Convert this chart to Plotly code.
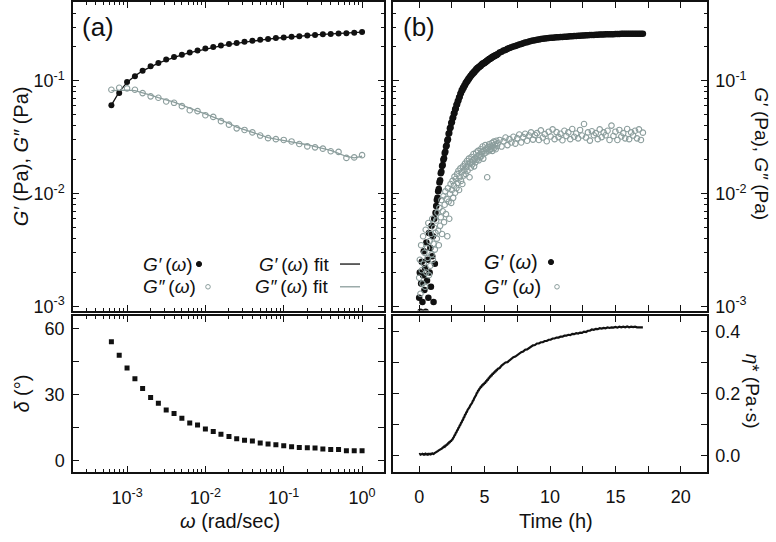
import plotly.graph_objects as go

# ---------------- data ----------------
omega = [6.31e-4, 7.94e-4, 1.00e-3, 1.26e-3, 1.58e-3, 2.00e-3, 2.51e-3, 3.16e-3, 3.98e-3, 5.01e-3,
         6.31e-3, 7.94e-3, 1.00e-2, 1.26e-2, 1.58e-2, 2.00e-2, 2.51e-2, 3.16e-2, 3.98e-2, 5.01e-2,
         6.31e-2, 7.94e-2, 1.00e-1, 1.26e-1, 1.58e-1, 2.00e-1, 2.51e-1, 3.16e-1, 3.98e-1, 5.01e-1,
         6.31e-1, 7.94e-1, 1.00]
g1_omega = [0.061, 0.078, 0.098, 0.110, 0.123, 0.135, 0.144, 0.155, 0.163, 0.171,
            0.179, 0.186, 0.194, 0.200, 0.206, 0.213, 0.217, 0.223, 0.227, 0.232,
            0.235, 0.240, 0.243, 0.246, 0.249, 0.253, 0.256, 0.260, 0.261, 0.263,
            0.265, 0.267, 0.272]
g2_omega = [0.0835, 0.087, 0.086, 0.0835, 0.078, 0.073, 0.071, 0.0657, 0.064, 0.0598,
            0.055, 0.054, 0.0497, 0.048, 0.044, 0.041, 0.038, 0.0368, 0.035, 0.0328,
            0.0311, 0.0305, 0.030, 0.0291, 0.0276, 0.0263, 0.0258, 0.0251, 0.0238, 0.0235,
            0.0208, 0.0210, 0.0220]
g1_fit = [0.061, 0.080, 0.097, 0.111, 0.123, 0.134, 0.144, 0.153, 0.162, 0.170,
          0.178, 0.185, 0.192, 0.199, 0.205, 0.211, 0.216, 0.222, 0.226, 0.231,
          0.235, 0.239, 0.243, 0.246, 0.249, 0.253, 0.256, 0.259, 0.261, 0.263,
          0.266, 0.268, 0.271]
g2_fit = [0.082, 0.083, 0.083, 0.082, 0.079, 0.075, 0.071, 0.068, 0.065, 0.061,
          0.057, 0.054, 0.051, 0.048, 0.045, 0.042, 0.039, 0.037, 0.035, 0.033,
          0.0315, 0.0305, 0.0297, 0.029, 0.0282, 0.0272, 0.0262, 0.0252, 0.0242, 0.0228,
          0.0214, 0.0208, 0.0215]
delta_deg = [54.0, 47.8, 42.1, 37.2, 32.8, 28.7, 26.1, 23.0, 21.5, 19.3,
             17.2, 16.3, 14.5, 13.3, 12.1, 11.0, 10.0, 9.4, 9.0, 8.1,
             7.6, 7.3, 6.9, 6.4, 6.1, 6.0, 5.8, 5.4, 5.2, 5.2,
             4.6, 4.6, 4.6]

time_h = [0.00, 0.05, 0.10, 0.15, 0.20, 0.25, 0.30, 0.35, 0.40, 0.45,
          0.50, 0.55, 0.60, 0.65, 0.70, 0.75, 0.80, 0.85, 0.90, 0.95,
          1.00, 1.05, 1.10, 1.15, 1.20, 1.25, 1.30, 1.35, 1.40, 1.45,
          1.50, 1.55, 1.60, 1.65, 1.70, 1.75, 1.80, 1.85, 1.90, 1.95,
          2.00, 2.05, 2.10, 2.15, 2.20, 2.25, 2.30, 2.35, 2.40, 2.45,
          2.50, 2.55, 2.60, 2.65, 2.70, 2.75, 2.80, 2.85, 2.90, 2.95,
          3.00, 3.05, 3.10, 3.15, 3.20, 3.25, 3.30, 3.35, 3.40, 3.45,
          3.50, 3.55, 3.60, 3.65, 3.70, 3.75, 3.80, 3.85, 3.90, 3.95,
          4.00, 4.05, 4.10, 4.15, 4.20, 4.25, 4.30, 4.35, 4.40, 4.45,
          4.50, 4.55, 4.60, 4.65, 4.70, 4.75, 4.80, 4.85, 4.90, 4.95,
          5.00, 5.05, 5.10, 5.15, 5.20, 5.25, 5.30, 5.35, 5.40, 5.45,
          5.50, 5.55, 5.60, 5.65, 5.70, 5.75, 5.80, 5.85, 5.90, 5.95,
          6.00,
          6.15, 6.30, 6.45, 6.60, 6.75, 6.90, 7.05, 7.20, 7.35,
          7.50, 7.65, 7.80, 7.95, 8.10, 8.25, 8.40, 8.55, 8.70, 8.85,
          9.00, 9.15, 9.30, 9.45, 9.60, 9.75, 9.90, 10.05, 10.20, 10.35,
          10.50, 10.65, 10.80, 10.95, 11.10, 11.25, 11.40, 11.55, 11.70, 11.85,
          12.00, 12.15, 12.30, 12.45, 12.60, 12.75, 12.90, 13.05, 13.20, 13.35,
          13.50, 13.65, 13.80, 13.95, 14.10, 14.25, 14.40, 14.55, 14.70, 14.85,
          15.00, 15.15, 15.30, 15.45, 15.60, 15.75, 15.90, 16.05, 16.20, 16.35,
          16.50, 16.65, 16.80, 16.95, 17.10]
g1_time = [0.0012, 0.0020, 0.0009, 0.0016, 0.0025, 0.0011, 0.0019, 0.0031, 0.0014, 0.0022,
           0.0009, 0.0037, 0.0017, 0.0026, 0.0012, 0.0045, 0.0020, 0.0033, 0.0015, 0.0052,
           0.0028, 0.0042, 0.0011, 0.0060, 0.0024, 0.0068,
           0.0078, 0.0088, 0.0092, 0.0105, 0.0110, 0.0126, 0.0132, 0.0152, 0.0157, 0.0176,
           0.0180, 0.0200, 0.0206, 0.0230, 0.0236, 0.0262, 0.0268, 0.0296, 0.0305, 0.0340,
           0.0345, 0.0380, 0.0386, 0.0424, 0.0430, 0.0468, 0.0474, 0.0515, 0.0520, 0.0562,
           0.0570, 0.0612, 0.0620, 0.0662, 0.0670, 0.0715, 0.0725, 0.0770, 0.0780, 0.0826,
           0.0828, 0.0870, 0.0872, 0.0912, 0.0915, 0.0958, 0.0962, 0.0998, 0.1000, 0.1040,
           0.1042, 0.1078, 0.1082, 0.1120, 0.1122, 0.1160, 0.1158, 0.1192, 0.1190, 0.1228,
           0.1232, 0.1268, 0.1266, 0.1300, 0.1302, 0.1330, 0.1330, 0.1355, 0.1358, 0.1392,
           0.1398, 0.1425, 0.1418, 0.1445, 0.1442, 0.1472, 0.1475, 0.1502, 0.1505, 0.1535,
           0.1538, 0.1562, 0.1565, 0.1590, 0.1592, 0.1618, 0.1618, 0.1645, 0.1645, 0.1672,
           0.1670, 0.1693, 0.1695, 0.1720, 0.1722,
           0.1785, 0.1815, 0.1860, 0.1885, 0.1925, 0.1955, 0.1990, 0.2020, 0.2045,
           0.2075, 0.2100, 0.2130, 0.2155, 0.2190, 0.2205, 0.2235, 0.2255, 0.2280, 0.2295,
           0.2320, 0.2335, 0.2350, 0.2365, 0.2375, 0.2390, 0.2400, 0.2410, 0.2420, 0.2425,
           0.2435, 0.2440, 0.2450, 0.2455, 0.2465, 0.2470, 0.2480, 0.2485, 0.2490, 0.2500,
           0.2505, 0.2510, 0.2520, 0.2525, 0.2530, 0.2540, 0.2545, 0.2550, 0.2555, 0.2560,
           0.2565, 0.2570, 0.2575, 0.2580, 0.2585, 0.2590, 0.2590, 0.2595, 0.2600, 0.2600,
           0.2605, 0.2610, 0.2610, 0.2615, 0.2615, 0.2620, 0.2620, 0.2620, 0.2625, 0.2620,
           0.2625, 0.2620, 0.2625, 0.2620, 0.2620]
g2_time = [0.0018, 0.0026, 0.0013, 0.0035, 0.0021, 0.0016, 0.0042, 0.0024, 0.0030, 0.0015,
           0.0048, 0.0020, 0.0033, 0.0027, 0.0055, 0.0019, 0.0038, 0.0023, 0.0044, 0.0029,
           0.0060, 0.0026, 0.0036, 0.0050, 0.0032, 0.0045,
           0.0058, 0.0040, 0.0068, 0.0047, 0.0035, 0.0075, 0.0052, 0.0062, 0.0088, 0.0044,
           0.0070, 0.0095, 0.0056, 0.0080, 0.0105, 0.0066, 0.0090, 0.0042, 0.0112, 0.0085,
           0.0060, 0.0100, 0.0122, 0.0083,
           0.0108, 0.0130, 0.0092, 0.0118, 0.0142, 0.0102, 0.0135, 0.0112, 0.0150, 0.0125,
           0.0160, 0.0108, 0.0140, 0.0168, 0.0130, 0.0155, 0.0122, 0.0175, 0.0145, 0.0162,
           0.0185, 0.0150, 0.0172, 0.0195, 0.0160, 0.0182, 0.0205, 0.0140, 0.0190, 0.0170,
           0.0212, 0.0182, 0.0198, 0.0225, 0.0175, 0.0205, 0.0190, 0.0232, 0.0200, 0.0215,
           0.0240, 0.0198, 0.0222, 0.0210, 0.0248, 0.0215, 0.0235, 0.0262, 0.0205, 0.0240,
           0.0228, 0.0270, 0.0232, 0.0250, 0.0140, 0.0258, 0.0238, 0.0275, 0.0245, 0.0262,
           0.0250, 0.0282, 0.0240, 0.0268, 0.0290, 0.0255, 0.0272, 0.0248, 0.0295, 0.0265,
           0.0280,
           0.0300, 0.0262, 0.0292, 0.0315, 0.0270, 0.0305, 0.0285, 0.0320, 0.0278,
           0.0310, 0.0335, 0.0285, 0.0318, 0.0340, 0.0295, 0.0328, 0.0350, 0.0302, 0.0332,
           0.0345, 0.0300, 0.0365, 0.0315, 0.0338, 0.0292, 0.0355, 0.0322, 0.0372, 0.0305,
           0.0352, 0.0318, 0.0340, 0.0298, 0.0362, 0.0325, 0.0350, 0.0305, 0.0375, 0.0320,
           0.0342, 0.0310, 0.0368, 0.0328, 0.0415, 0.0315, 0.0350, 0.0296, 0.0358, 0.0330,
           0.0345, 0.0305, 0.0372, 0.0318, 0.0350, 0.0330, 0.0362, 0.0300, 0.0402, 0.0325,
           0.0355, 0.0300, 0.0368, 0.0322, 0.0345, 0.0310, 0.0375, 0.0305, 0.0350, 0.0328,
           0.0362, 0.0310, 0.0372, 0.0300, 0.0348]
eta_star = [0.004, 0.005, 0.003, 0.005, 0.004, 0.006, 0.004, 0.003, 0.005, 0.004,
            0.006, 0.005, 0.003, 0.005, 0.004, 0.006, 0.005, 0.004, 0.006, 0.005,
            0.007, 0.006, 0.005, 0.007, 0.008, 0.009,
            0.011, 0.012, 0.014, 0.015, 0.017, 0.018, 0.020, 0.021, 0.023, 0.023,
            0.026, 0.026, 0.029, 0.028, 0.032, 0.032, 0.035, 0.035, 0.039, 0.039,
            0.043, 0.043, 0.047, 0.047, 0.051, 0.052, 0.057, 0.059, 0.065, 0.067,
            0.073, 0.075, 0.081, 0.083, 0.089, 0.091, 0.097, 0.099, 0.105, 0.107,
            0.113, 0.115, 0.122, 0.124, 0.131, 0.133, 0.139, 0.141, 0.147, 0.149,
            0.154, 0.156, 0.161, 0.163, 0.168, 0.170, 0.176, 0.178, 0.184, 0.187,
            0.193, 0.195, 0.201, 0.203, 0.209, 0.210, 0.215, 0.216, 0.221, 0.221,
            0.226, 0.226, 0.230, 0.230, 0.234, 0.234, 0.239, 0.239, 0.244, 0.244,
            0.249, 0.249, 0.254, 0.254, 0.258, 0.258, 0.263, 0.263, 0.267, 0.267,
            0.271, 0.271, 0.275, 0.275, 0.279,
            0.282, 0.290, 0.294, 0.300, 0.301, 0.307, 0.310, 0.317, 0.319,
            0.324, 0.327, 0.333, 0.335, 0.341, 0.342, 0.347, 0.349, 0.355, 0.356,
            0.361, 0.361, 0.365, 0.365, 0.369, 0.369, 0.373, 0.373, 0.377, 0.377,
            0.380, 0.380, 0.383, 0.383, 0.386, 0.386, 0.389, 0.388, 0.392, 0.391,
            0.394, 0.393, 0.396, 0.395, 0.399, 0.398, 0.402, 0.402, 0.406, 0.405,
            0.408, 0.407, 0.410, 0.409, 0.411, 0.410, 0.413, 0.411, 0.413, 0.412,
            0.414, 0.412, 0.415, 0.413, 0.415, 0.413, 0.416, 0.413, 0.415, 0.414,
            0.415, 0.413, 0.414, 0.413, 0.413]

assert len(time_h) == len(g1_time) == len(g2_time) == len(eta_star), (
    len(time_h), len(g1_time), len(g2_time), len(eta_star))

log_tick_vals = [1e-3, 1e-2, 1e-1, 1]
log_tick_text = ["10<sup>-3</sup>", "10<sup>-2</sup>", "10<sup>-1</sup>", "10<sup>0</sup>"]

# ---------------- styling ----------------
W, H = 776, 542
BLACK = "#111111"
GRAY = "#8c9e9d"
FONT = "Liberation Sans, Arial, sans-serif"


def px(x):
    return x / W


def py(y):
    return 1 - y / H


def minor_log(lo, hi):
    out = []
    for e in range(lo, hi + 1):
        for m in range(2, 10):
            out.append(m * 10.0 ** e)
    return out


fig = go.Figure()

# (a) top: G', G'' vs omega
fig.add_trace(go.Scatter(x=omega, y=g1_fit, mode="lines", line=dict(color=BLACK, width=1.3),
                         xaxis="x", yaxis="y", showlegend=False))
fig.add_trace(go.Scatter(x=omega, y=g2_fit, mode="lines", line=dict(color=GRAY, width=1.3),
                         xaxis="x", yaxis="y", showlegend=False))
fig.add_trace(go.Scatter(x=omega, y=g1_omega, mode="markers",
                         marker=dict(color=BLACK, size=6, line=dict(width=0)),
                         xaxis="x", yaxis="y", showlegend=False))
fig.add_trace(go.Scatter(x=omega, y=g2_omega, mode="markers",
                         marker=dict(color=GRAY, size=5.5, symbol="circle-open", line=dict(color=GRAY, width=1.1)),
                         xaxis="x", yaxis="y", showlegend=False))
# (a) bottom: delta
fig.add_trace(go.Scatter(x=omega, y=delta_deg, mode="markers",
                         marker=dict(color=BLACK, size=5, symbol="square", line=dict(width=0)),
                         xaxis="x3", yaxis="y3", showlegend=False))
# (b) top: time sweep
fig.add_trace(go.Scatter(x=time_h, y=g1_time, mode="markers",
                         marker=dict(color=BLACK, size=6.5, line=dict(width=0)),
                         xaxis="x2", yaxis="y2", showlegend=False))
fig.add_trace(go.Scatter(x=time_h, y=g2_time, mode="markers",
                         marker=dict(size=5.5, symbol="circle-open", color=GRAY, line=dict(color=GRAY, width=1.1)),
                         xaxis="x2", yaxis="y2", showlegend=False))
# (b) bottom: eta*
fig.add_trace(go.Scatter(x=time_h, y=eta_star, mode="lines", line=dict(color=BLACK, width=2.2),
                         xaxis="x4", yaxis="y4", showlegend=False))

common = dict(showline=True, linecolor=BLACK, linewidth=1.5, mirror="allticks", ticks="inside",
              ticklen=6, tickwidth=1.2, tickcolor=BLACK, showgrid=False, zeroline=False,
              tickfont=dict(family=FONT, size=18, color=BLACK), ticklabelstandoff=3)

xl = [px(73), px(384)]
xr = [px(393), px(707)]
yt = [py(314), py(2)]
yb = [py(477), py(320)]

logx_range = [-3.69, 0.28]
logy_range = [-3.035, -0.30]

fig.update_layout(
    width=W, height=H, margin=dict(l=0, r=0, t=0, b=0),
    paper_bgcolor="white", plot_bgcolor="white",
    font=dict(family=FONT, size=18, color=BLACK),
    xaxis=dict(common, type="log", domain=xl, range=logx_range, anchor="y", tickvals=log_tick_vals,
               ticktext=log_tick_text, showticklabels=False,
               minor=dict(tickvals=minor_log(-4, 0), ticks="inside", ticklen=3, tickcolor=BLACK)),
    yaxis=dict(common, type="log", domain=yt, range=logy_range, anchor="x", tickvals=log_tick_vals[:3],
               ticktext=log_tick_text[:3],
               minor=dict(tickvals=minor_log(-3, -1), ticks="inside", ticklen=3, tickcolor=BLACK)),
    xaxis3=dict(common, type="log", domain=xl, range=logx_range, anchor="y3", tickvals=log_tick_vals,
                ticktext=log_tick_text, ticklabelstandoff=9,
                minor=dict(tickvals=minor_log(-4, 0), ticks="inside", ticklen=3, tickcolor=BLACK)),
    yaxis3=dict(common, domain=yb, range=[-4.9, 65.4], anchor="x3", tickvals=[0, 30, 60],
                minor=dict(tickvals=[15, 45], ticks="inside", ticklen=6, tickcolor=BLACK)),
    xaxis2=dict(common, domain=xr, range=[-2, 22], anchor="y2", tickvals=[0, 5, 10, 15, 20],
                showticklabels=False,
                minor=dict(tickvals=[2.5, 7.5, 12.5, 17.5], ticks="inside", ticklen=6, tickcolor=BLACK)),
    yaxis2=dict(common, type="log", domain=yt, range=logy_range, anchor="x2", side="right",
                tickvals=log_tick_vals[:3], ticktext=log_tick_text[:3],
                minor=dict(tickvals=minor_log(-3, -1), ticks="inside", ticklen=3, tickcolor=BLACK)),
    xaxis4=dict(common, domain=xr, range=[-2, 22], anchor="y4", tickvals=[0, 5, 10, 15, 20],
                ticklabelstandoff=8,
                minor=dict(tickvals=[2.5, 7.5, 12.5, 17.5], ticks="inside", ticklen=6, tickcolor=BLACK)),
    yaxis4=dict(common, domain=yb, range=[-0.052, 0.448], anchor="x4", side="right",
                tickvals=[0.0, 0.2, 0.4], ticktext=["0.0", "0.2", "0.4"],
                minor=dict(tickvals=[0.1, 0.3], ticks="inside", ticklen=6, tickcolor=BLACK)),
)

ann = []


def text(x, y, s, size=18, angle=0, xanchor="center", yanchor="middle"):
    ann.append(dict(x=px(x), y=py(y), xref="paper", yref="paper", text=s, showarrow=False,
                    textangle=angle, xanchor=xanchor, yanchor=yanchor,
                    font=dict(family=FONT, size=size, color=BLACK)))


# panel labels
text(98, 27, "(a)", size=26)
text(419, 27, "(b)", size=26)
# axis titles
text(21, 158, "<i>G′</i> (Pa), <i>G″</i> (Pa)", size=20, angle=-90)
text(22, 398, "<i>δ</i> (°)", size=20, angle=-90)
text(230, 527, "<i>ω</i> (rad/sec)", size=20)
text(556, 527, "Time (h)", size=20)
text(762, 155, "<i>G′</i> (Pa), <i>G″</i> (Pa)", size=19, angle=90)
text(752, 395, "<i>η</i>* (Pa·s)", size=19, angle=90)

# legend (a)
text(141, 267, "<i>G′</i>\u2009(<i>ω</i>)", xanchor="left", size=19)
text(141, 290, "<i>G″</i>\u2009(<i>ω</i>)", xanchor="left", size=19)
text(331, 267, "<i>G′</i>\u2009(<i>ω</i>) fit", xanchor="right", size=19)
text(331, 290, "<i>G″</i>\u2009(<i>ω</i>) fit", xanchor="right", size=19)
# legend (b)
text(482, 265, "<i>G′</i> (<i>ω</i>)", xanchor="left", size=20)
text(482, 290, "<i>G″</i> (<i>ω</i>)", xanchor="left", size=20)
fig.update_layout(annotations=ann)

shapes = []
for (cx, cy, fill, line) in [(199, 267, BLACK, BLACK), (208, 290, "white", GRAY),
                             (551, 265, BLACK, BLACK), (557, 290, "white", GRAY)]:
    r = 2.6 if fill == BLACK else 2.3
    shapes.append(dict(type="circle", xref="paper", yref="paper", x0=px(cx - r), x1=px(cx + r),
                       y0=py(cy + r), y1=py(cy - r), fillcolor=fill, line=dict(color=line, width=1)))
shapes.append(dict(type="line", xref="paper", yref="paper", x0=px(340), x1=px(360), y0=py(267), y1=py(267),
                   line=dict(color=BLACK, width=1.3)))
shapes.append(dict(type="line", xref="paper", yref="paper", x0=px(340), x1=px(360), y0=py(290), y1=py(290),
                   line=dict(color=GRAY, width=1.3)))
fig.update_layout(shapes=shapes)

# remove the browser's default 8px body margin so the figure sits at the page origin
fig.write_html("out.html", config={"displayModeBar": False},
               post_script="document.body.style.margin='0';")
